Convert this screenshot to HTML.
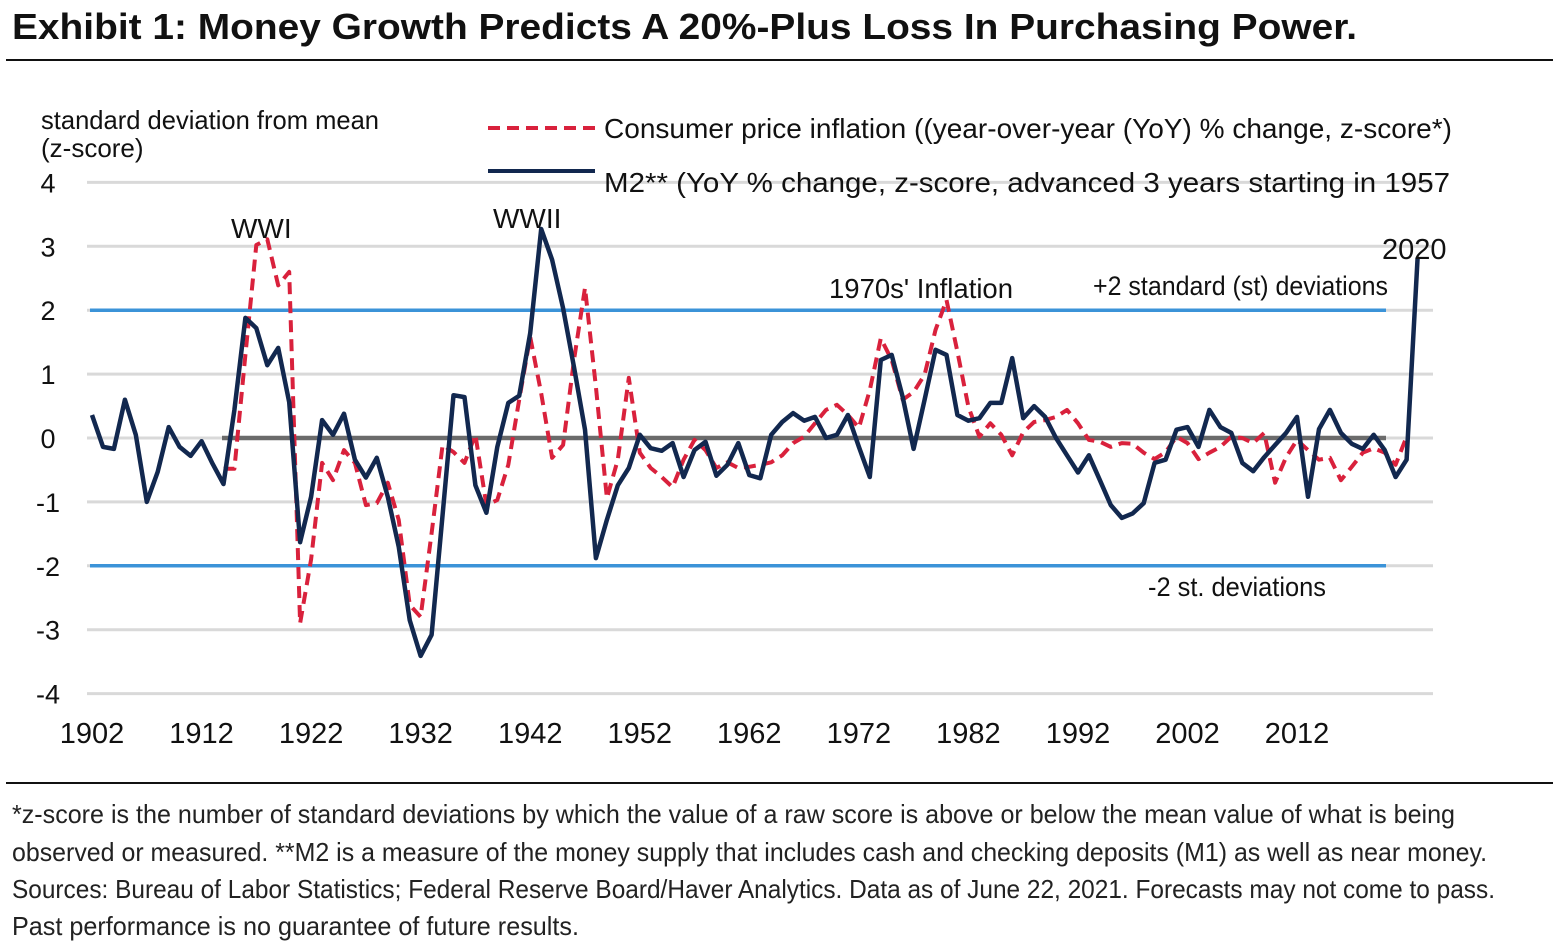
<!DOCTYPE html>
<html><head><meta charset="utf-8"><style>
html,body{margin:0;padding:0;background:#fff;}
svg{display:block;font-family:"Liberation Sans Narrow","Liberation Sans",sans-serif;}
</style></head><body>
<svg id="chart" width="1560" height="948" viewBox="0 0 1560 948" xmlns="http://www.w3.org/2000/svg">
<text x="12" y="39" font-size="36" font-weight="bold" fill="#111" font-family="Liberation Sans, sans-serif" textLength="1345" lengthAdjust="spacingAndGlyphs">Exhibit 1: Money Growth Predicts A 20%-Plus Loss In Purchasing Power.</text>
<line x1="6" y1="60" x2="1553" y2="60" stroke="#111" stroke-width="2"/>
<g id="grid"></g>
<g id="yticks" font-size="27" fill="#111" text-anchor="middle"></g>
<g id="xticks" font-size="29" fill="#111" text-anchor="middle"></g>
<text x="41" y="129" font-size="26" fill="#111" textLength="338" lengthAdjust="spacingAndGlyphs">standard deviation from mean</text>
<text x="41" y="157" font-size="26" fill="#111">(z-score)</text>
<g id="series"></g>
<g>
<line x1="488" y1="128" x2="595" y2="128" stroke="#d9213c" stroke-width="4" stroke-dasharray="12,7"/>
<text x="604" y="138" font-size="28" fill="#111" textLength="848" lengthAdjust="spacingAndGlyphs">Consumer price inflation ((year-over-year (YoY) % change, z-score*)</text>
<line x1="488" y1="171" x2="595" y2="171" stroke="#12284f" stroke-width="4"/>
<text x="604" y="192" font-size="28" fill="#111" textLength="846" lengthAdjust="spacingAndGlyphs">M2** (YoY % change, z-score, advanced 3 years starting in 1957</text>
</g>
<text x="231" y="238" font-size="28" fill="#111">WWI</text>
<text x="493" y="228" font-size="28" fill="#111">WWII</text>
<text x="829" y="298" font-size="28" fill="#111" textLength="184" lengthAdjust="spacingAndGlyphs">1970s' Inflation</text>
<text x="1093" y="295" font-size="27" fill="#111" textLength="295" lengthAdjust="spacingAndGlyphs">+2 standard (st) deviations</text>
<text x="1148" y="596" font-size="27" fill="#111" textLength="178" lengthAdjust="spacingAndGlyphs">-2 st. deviations</text>
<text x="1382" y="259" font-size="29" fill="#111">2020</text>
<line x1="6" y1="783" x2="1553" y2="783" stroke="#111" stroke-width="2"/>
<g font-size="26" fill="#222">
<text x="12" y="823" textLength="1443" lengthAdjust="spacingAndGlyphs">*z-score is the number of standard deviations by which the value of a raw score is above or below the mean value of what is being</text>
<text x="12" y="861" textLength="1475" lengthAdjust="spacingAndGlyphs">observed or measured. **M2 is a measure of the money supply that includes cash and checking deposits (M1) as well as near money.</text>
<text x="12" y="898" textLength="1483" lengthAdjust="spacingAndGlyphs">Sources: Bureau of Labor Statistics; Federal Reserve Board/Haver Analytics. Data as of June 22, 2021. Forecasts may not come to pass.</text>
<text x="12" y="935" textLength="567" lengthAdjust="spacingAndGlyphs">Past performance is no guarantee of future results.</text>
</g>
</svg>
<script>
const yTicks = [4,3,2,1,0,-1,-2,-3,-4];
const xTickLabels = [1902,1912,1922,1932,1942,1952,1962,1972,1982,1992,2002,2012];
const m2Start = 1902;
const m2Values = [0.36,-0.14,-0.17,0.6,0.05,-1.0,-0.53,0.17,-0.14,-0.28,-0.05,-0.4,-0.72,0.44,1.88,1.72,1.14,1.41,0.56,-1.63,-0.92,0.28,0.05,0.38,-0.34,-0.62,-0.31,-0.92,-1.7,-2.85,-3.41,-3.08,-1.2,0.67,0.64,-0.74,-1.17,-0.14,0.55,0.66,1.64,3.27,2.79,2.03,1.11,0.13,-1.88,-1.28,-0.74,-0.47,0.05,-0.16,-0.2,-0.08,-0.61,-0.19,-0.06,-0.59,-0.42,-0.08,-0.58,-0.63,0.05,0.25,0.39,0.27,0.33,0,0.05,0.36,-0.14,-0.61,1.22,1.3,0.64,-0.17,0.6,1.38,1.3,0.36,0.27,0.31,0.55,0.55,1.25,0.31,0.5,0.33,0,-0.27,-0.54,-0.27,-0.66,-1.05,-1.25,-1.18,-1.02,-0.39,-0.34,0.13,0.17,-0.14,0.44,0.17,0.08,-0.39,-0.52,-0.3,-0.11,0.08,0.33,-0.92,0.14,0.44,0.08,-0.09,-0.17,0.05,-0.19,-0.61,-0.34,2.82];
const cpiStart = 1914;
const cpiValues = [-0.48,-0.48,1.3,3.02,3.11,2.39,2.6,-2.9,-1.9,-0.39,-0.66,-0.19,-0.39,-1.05,-1.02,-0.7,-1.28,-2.61,-2.8,-1.49,-0.11,-0.22,-0.39,0.05,-1.05,-0.97,-0.42,0.6,1.58,0.7,-0.31,-0.11,1.22,2.35,0.8,-0.94,-0.34,0.94,-0.23,-0.47,-0.61,-0.77,-0.34,-0.03,-0.19,-0.47,-0.38,-0.47,-0.45,-0.42,-0.38,-0.27,-0.08,0.02,0.23,0.44,0.52,0.36,0.16,0.75,1.56,1.22,0.6,0.72,0.99,1.69,2.16,1.35,0.49,0.02,0.23,0.05,-0.27,0.09,0.25,0.28,0.33,0.44,0.23,-0.03,-0.06,-0.14,-0.08,-0.09,-0.23,-0.33,-0.22,0.02,-0.08,-0.33,-0.23,-0.14,0.02,0,-0.08,0.08,-0.7,-0.3,-0.03,-0.19,-0.34,-0.31,-0.66,-0.45,-0.23,-0.16,-0.23,-0.42,0.02];
const bandValues = [2,-2];

const NS = "http://www.w3.org/2000/svg";
function xs(year){ return 92 + (year-1902)*10.955; }
function ys(v){ return 438 - v*63.9; }
function mk(tag, parent){ const e=document.createElementNS(NS,tag); parent.appendChild(e); return e; }

const grid = document.getElementById('grid');
yTicks.forEach(function(t){
  const l = mk('line', grid);
  
  
  l.setAttribute('x1', 87); l.setAttribute('x2', 1433);
  l.setAttribute('y1', ys(t)); l.setAttribute('y2', ys(t));
  l.setAttribute('stroke', '#d9d9d9'); l.setAttribute('stroke-width', 3);
  const tx = mk('text', document.getElementById('yticks'));
  
  
  tx.setAttribute('x', 48); tx.setAttribute('y', ys(t)+10);
  tx.textContent = t;
});
xTickLabels.forEach(function(yr){
  const tx = mk('text', document.getElementById('xticks'));
  
  
  tx.setAttribute('x', xs(yr)); tx.setAttribute('y', 743);
  tx.textContent = yr;
});
bandValues.forEach(function(b){
  const l = mk('line', grid);
  
  
  l.setAttribute('x1', 90); l.setAttribute('x2', 1386);
  l.setAttribute('y1', ys(b)); l.setAttribute('y2', ys(b));
  l.setAttribute('stroke', '#3b93d8'); l.setAttribute('stroke-width', 3.5);
});
const z = mk('line', grid);


z.setAttribute('x1', 222); z.setAttribute('x2', 1386);
z.setAttribute('y1', ys(0)); z.setAttribute('y2', ys(0));
z.setAttribute('stroke', '#6b6b6b'); z.setAttribute('stroke-width', 4.5);

const series = document.getElementById('series');
function pathFor(start, vals){
  return vals.map(function(v,i){ return (i?'L':'M') + xs(start+i).toFixed(1) + ',' + ys(v).toFixed(1); }).join(' ');
}
const cpi = mk('path', series);


cpi.setAttribute('d', pathFor(cpiStart, cpiValues));
cpi.setAttribute('fill', 'none'); cpi.setAttribute('stroke', '#d9213c');
cpi.setAttribute('stroke-width', 4); cpi.setAttribute('stroke-dasharray', '12,7');
cpi.setAttribute('stroke-linejoin', 'round');
const m2 = mk('path', series);


m2.setAttribute('d', pathFor(m2Start, m2Values));
m2.setAttribute('fill', 'none'); m2.setAttribute('stroke', '#12284f');
m2.setAttribute('stroke-width', 4.5); m2.setAttribute('stroke-linejoin', 'round');
</script>
</body></html>
